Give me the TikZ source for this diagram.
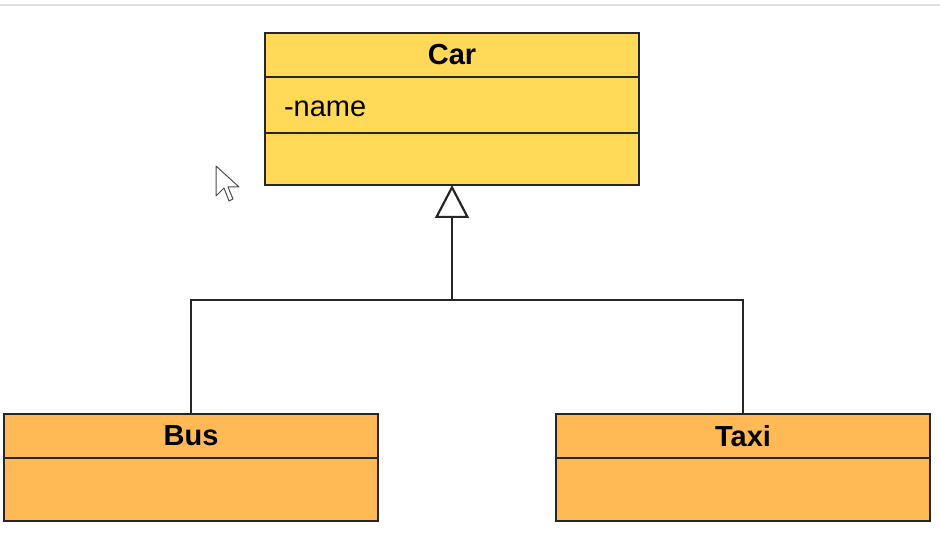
\documentclass[tikz,border=0pt]{standalone}
\usepackage{fontspec}
\setmainfont{Liberation Sans}
\usepackage{tikz}
\usetikzlibrary{arrows.meta,positioning}

\definecolor{caryellow}{HTML}{FFD957}
\definecolor{suborange}{HTML}{FFBA55}

\begin{document}
\begin{tikzpicture}[x=1pt,y=-1pt,
		every node/.style={draw=black!85,line width=2.2pt,outer sep=0pt,inner sep=0pt,font=\fontsize{29}{33}\selectfont},
		classname/.style={minimum width=374pt,minimum height=44pt,font=\fontsize{29}{33}\selectfont\bfseries},
		classpart/.style={minimum width=374pt,text width=336pt,align=left},
		inherits/.style={draw=black!85,line width=2.8pt,-{Triangle[open,width=34pt,length=33pt,line width=2.2pt]}}]

		\useasboundingbox (0,0) rectangle (940,548);
		\draw[black!12,line width=2pt] (0,5) -- (940,5);

		% superclass
		\node [classname,fill=caryellow] (car) at (452,55) {Car};
		\node [classpart,fill=caryellow,minimum height=56pt,below=0pt of car,text height=26pt,text depth=2pt] (carattr) {-name};
		\node [classpart,fill=caryellow,minimum height=52pt,below=0pt of carattr] (carops) {};

		% subclasses
		\node [classname,fill=suborange] (bus) at (191,436) {Bus};
		\node [classpart,fill=suborange,minimum height=63pt,below=0pt of bus] (busops) {};
		\node [classname,fill=suborange] (taxi) at (743,436) {Taxi};
		\node [classpart,fill=suborange,minimum height=63pt,below=0pt of taxi] (taxiops) {};

		\coordinate (split) at (carops.south |- 0,300);
		\draw [inherits] (bus.north) |- (split) -- (carops.south);
		\draw [draw=black!85,line width=2.8pt] (taxi.north) |- (split);

		% mouse pointer
		\draw [black!70,fill=white,line width=1pt,line join=round]
			(216,166) -- (216,196) -- (224,188) -- (229,201) -- (233,199) -- (228,187) -- (239,187) -- cycle;

\end{tikzpicture}
\end{document}
